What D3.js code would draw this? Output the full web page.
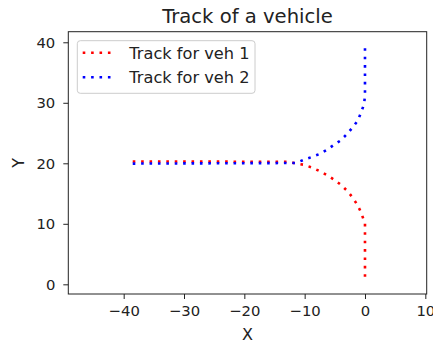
<!DOCTYPE html>
<html>
<head>
<meta charset="utf-8">
<script src="https://cdn.jsdelivr.net/npm/d3@7/dist/d3.min.js"></script>
<style>
  html, body { margin: 0; padding: 0; background: #fff; }
  svg { display: block; }
  text { font-family: "DejaVu Sans", sans-serif; fill: #222; }
</style>
</head>
<body>
<svg id="chart" width="433" height="345"></svg>
<script>
// Track of vehicle 1: enters from the west along y≈20, turns right and heads south to the origin
const veh1X = [-38.5, -12.5, -11.4, -10.1, -8.8, -7.5, -6.3, -5.2, -4.0, -2.9, -2.1, -1.3, -0.7, -0.3, 0, 0];
const veh1Y = [20.3, 20.25, 19.95, 19.75, 19.3, 18.7, 18.05, 17.35, 16.45, 15.4, 14.4, 13.2, 12.0, 10.9, 10.0, 0.4];

// Track of vehicle 2: same approach, turns left and heads north
const veh2X = [-38.5, -11.5, -10.1, -8.8, -7.5, -6.25, -5.15, -4.0, -2.93, -2.04, -1.16, -0.66, -0.15, 0, 0];
const veh2Y = [19.95, 20.05, 20.6, 21.05, 21.55, 22.25, 23.05, 23.8, 24.9, 25.95, 27.1, 28.4, 29.75, 31.2, 39.8];

const seriesNames = ["Track for veh 1", "Track for veh 2"];
const seriesColors = ["#ff0000", "#0000ff"];

const xTicks = [-40, -30, -20, -10, 0, 10];
const yTicks = [0, 10, 20, 30, 40];
const xDomain = [-49.18, 10.23];
const yDomain = [-1.6, 41.75];

const plot = { left: 68.3, right: 426.7, top: 31.7, bottom: 294 };

const svg = d3.select("#chart");

const x = d3.scaleLinear().domain(xDomain).range([plot.left, plot.right]);
const y = d3.scaleLinear().domain(yDomain).range([plot.bottom, plot.top]);

const fmt = d => (d < 0 ? "\u2212" + Math.abs(d) : String(d));

// x axis
const xAxis = svg.append("g")
  .attr("transform", `translate(0,${plot.bottom})`)
  .call(d3.axisBottom(x).tickValues(xTicks).tickFormat(fmt).tickSize(5).tickPadding(6));
xAxis.select(".domain").remove();
xAxis.selectAll("line").attr("stroke", "#222").attr("stroke-width", 1);
xAxis.selectAll("text").attr("font-size", 14.8).attr("fill", "#222")
  .attr("font-family", "DejaVu Sans, sans-serif");

// y axis
const yAxis = svg.append("g")
  .attr("transform", `translate(${plot.left},0)`)
  .call(d3.axisLeft(y).tickValues(yTicks).tickFormat(fmt).tickSize(5).tickPadding(8));
yAxis.select(".domain").remove();
yAxis.selectAll("line").attr("stroke", "#222").attr("stroke-width", 1);
yAxis.selectAll("text").attr("font-size", 14.8).attr("fill", "#222")
  .attr("font-family", "DejaVu Sans, sans-serif");

// tracks
const line = d3.line().x(d => x(d[0])).y(d => y(d[1]));
const tracks = [
  d3.zip(veh1X, veh1Y),
  d3.zip(veh2X, veh2Y)
];
tracks.forEach((pts, i) => {
  svg.append("path")
    .datum(pts)
    .attr("d", line)
    .attr("fill", "none")
    .attr("stroke", seriesColors[i])
    .attr("stroke-width", 2.6)
    .attr("stroke-dasharray", "2.6 5.8");
});

// frame
svg.append("rect")
  .attr("x", plot.left).attr("y", plot.top)
  .attr("width", plot.right - plot.left).attr("height", plot.bottom - plot.top)
  .attr("fill", "none").attr("stroke", "#222").attr("stroke-width", 1);

// title and axis labels
svg.append("text")
  .attr("x", (plot.left + plot.right) / 2).attr("y", 23)
  .attr("text-anchor", "middle").attr("font-size", 19.6)
  .text("Track of a vehicle");

svg.append("text")
  .attr("x", (plot.left + plot.right) / 2).attr("y", 340)
  .attr("text-anchor", "middle").attr("font-size", 16)
  .text("X");

svg.append("text")
  .attr("transform", `translate(24,${(plot.top + plot.bottom) / 2}) rotate(-90)`)
  .attr("text-anchor", "middle").attr("font-size", 16)
  .text("Y");

// legend
const legend = svg.append("g");
legend.append("rect")
  .attr("x", 77.3).attr("y", 40.7).attr("width", 177.7).attr("height", 52.6)
  .attr("rx", 3).attr("ry", 3)
  .attr("fill", "#fff").attr("fill-opacity", 0.8)
  .attr("stroke", "#cccccc").attr("stroke-width", 1);

seriesNames.forEach((name, i) => {
  const cy = 52.7 + i * 24.6;
  legend.append("line")
    .attr("x1", 82.7).attr("x2", 112.7).attr("y1", cy).attr("y2", cy)
    .attr("stroke", seriesColors[i]).attr("stroke-width", 2.6)
    .attr("stroke-dasharray", "2.6 5.8");
  legend.append("text")
    .attr("x", 129.3).attr("y", cy).attr("dy", "0.36em")
    .attr("font-size", 16.2)
    .text(name);
});
</script>
</body>
</html>
